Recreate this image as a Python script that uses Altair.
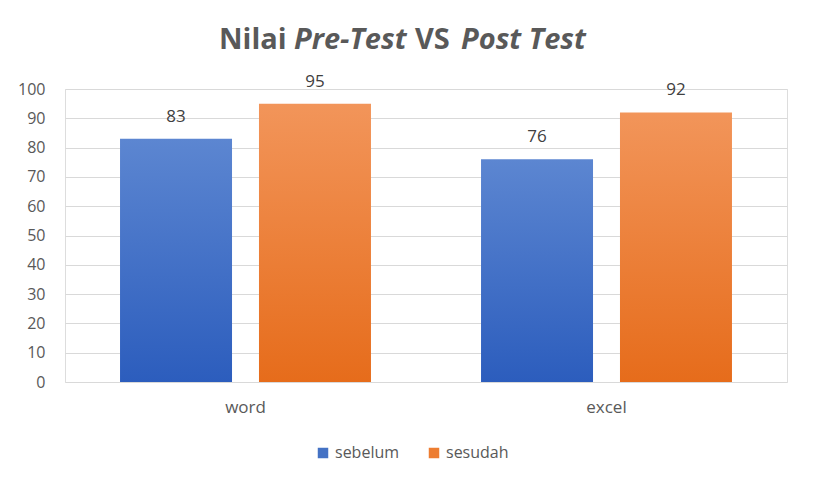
import altair as alt
import pandas as pd

categories = ["word", "excel"]
series = ["sebelum", "sesudah"]
sebelum = [83, 76]
sesudah = [95, 92]
y_ticks = [0, 10, 20, 30, 40, 50, 60, 70, 80, 90, 100]

rows = []
for i, c in enumerate(categories):
    rows.append({"kategori": c, "seri": "sebelum", "nilai": sebelum[i]})
    rows.append({"kategori": c, "seri": "sesudah", "nilai": sesudah[i]})
df = pd.DataFrame(rows)

W, H = 722, 293
FONT = "Open Sans"
GREY = "#595959"

x_enc = alt.X("kategori:N", sort=categories, title=None,
              scale=alt.Scale(paddingInner=0, paddingOuter=0),
              axis=alt.Axis(labelFontSize=17, labelColor=GREY, labelFont=FONT,
                            labelPadding=17, ticks=False, domain=False,
                            grid=False, labelAngle=0))
xo_enc = alt.XOffset("seri:N", scale=alt.Scale(domain=series, paddingInner=0.194, paddingOuter=0.396))
y_enc = alt.Y("nilai:Q", title=None,
              scale=alt.Scale(domain=[0, 100], nice=False),
              axis=alt.Axis(values=y_ticks, labelFontSize=16, labelColor=GREY, labelFont=FONT,
                            labelPadding=20, ticks=False, domain=False,
                            gridColor="#d9d9d9", gridWidth=1))

def grad(top, bottom):
    return alt.Gradient(gradient="linear",
                        stops=[alt.GradientStop(color=top, offset=0),
                               alt.GradientStop(color=bottom, offset=1)],
                        x1=0, x2=0, y1=0, y2=1)

base = alt.Chart(df)

legend_layer = base.mark_bar(opacity=0).encode(
    x=x_enc, xOffset=xo_enc, y=y_enc,
    color=alt.Color("seri:N", scale=alt.Scale(domain=series, range=["#4472C4", "#ED7D31"]),
                    legend=alt.Legend(title=None, orient="none", direction="horizontal",
                                      legendX=250, legendY=356, symbolType="square",
                                      symbolSize=110, symbolOpacity=1, symbolStrokeWidth=0,
                                      labelFontSize=16, labelColor=GREY, labelFont=FONT,
                                      columnPadding=26, symbolOffset=0, labelOffset=4)))

bar_seb = base.transform_filter(alt.datum.seri == "sebelum").mark_bar(
    color=grad("#5C86D1", "#2C5DBD")).encode(x=x_enc, xOffset=xo_enc, y=y_enc)
bar_ses = base.transform_filter(alt.datum.seri == "sesudah").mark_bar(
    color=grad("#F2955A", "#E66C1B")).encode(x=x_enc, xOffset=xo_enc, y=y_enc)

labels = base.mark_text(dy=-13, fontSize=17, color="#404040", font=FONT, baseline="bottom").encode(
    x=x_enc, xOffset=xo_enc, y=y_enc, text="nilai:Q")

def title_part(txt, xpos, italic):
    return alt.Chart(pd.DataFrame({"t": [txt]})).mark_text(
        font=FONT, fontSize=29, fontWeight="bold", fontStyle="italic" if italic else "normal",
        color=GREY, align="left", baseline="alphabetic").encode(
        text="t:N", x=alt.value(xpos), y=alt.value(-40))

t1 = title_part("Nilai", 219 - 65, False)
t2 = title_part("Pre-Test", 294 - 65, True)
t3 = title_part("VS", 415 - 65, False)
t4 = title_part("Post Test", 461 - 65, True)

chart = alt.layer(legend_layer, bar_seb, bar_ses, labels, t1, t2, t3, t4).properties(
    width=W, height=H,
    autosize=alt.AutoSizeParams(type="none"),
    padding={"left": 57, "top": 81, "right": 20, "bottom": 98},
).configure_view(stroke=None).configure(background="white")

chart.save("out.html", embed_options={"renderer": "svg", "actions": False})
